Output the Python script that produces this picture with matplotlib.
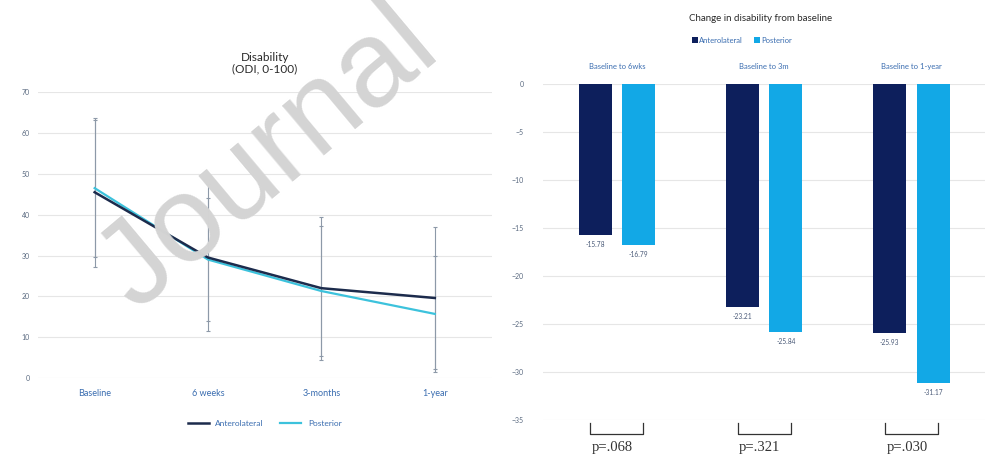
import numpy as np
import matplotlib
matplotlib.use('Agg')
import matplotlib.pyplot as plt

plt.rcParams['font.family'] = ['Lato', 'DejaVu Sans']

# ---- 数据：左图 ODI 随时间变化 ----
time_points = ['Baseline', '6 weeks', '3-months', '1-year']
ant_mean = [45.5, 29.5, 22.0, 19.6]
ant_sd = [18.3, 18.0, 17.5, 17.5]
post_mean = [46.5, 29.0, 21.3, 15.7]
post_sd = [16.8, 15.0, 16.0, 14.3]

# ---- 数据：右图 相对基线变化 ----
change_groups = ['Baseline to 6wks', 'Baseline to 3m', 'Baseline to 1-year']
ant_change = [-15.78, -23.21, -25.93]
post_change = [-16.79, -25.84, -31.17]
p_values = ['p=.068', 'p=.321', 'p=.030']

series_names = ['Anterolateral', 'Posterior']

navy = '#0d1f5c'
cyan = '#12a8e6'
line_navy = '#1c2b4c'
line_cyan = '#3cc2dc'
err_col = '#8d99a8'
grid_col = '#e6e6e6'
tick_col = '#5a6a80'
lab_col = '#3a6db0'

fig = plt.figure(figsize=(9.86, 4.61), dpi=100)

# ================= 左图 =================
ax1 = fig.add_axes([0.0385, 0.18, 0.46, 0.62])
x = np.arange(len(time_points))
ax1.errorbar(x, ant_mean, yerr=ant_sd, fmt='none', ecolor=err_col, elinewidth=0.8,
             capsize=1.5, capthick=0.8, zorder=2)
ax1.errorbar(x, post_mean, yerr=post_sd, fmt='none', ecolor=err_col, elinewidth=0.8,
             capsize=1.5, capthick=0.8, zorder=2)
ax1.plot(x, ant_mean, color=line_navy, lw=1.8, label=series_names[0], zorder=4)
ax1.plot(x, post_mean, color=line_cyan, lw=1.6, label=series_names[1], zorder=3)
ax1.set_xlim(-0.5, len(time_points) - 0.5)
ax1.set_ylim(0, 70)
ax1.set_yticks(np.arange(0, 71, 10))
ax1.set_xticks(x)
ax1.set_xticklabels(time_points, fontsize=6.5, color=lab_col)
ax1.tick_params(axis='y', labelsize=5, colors=tick_col, length=0, pad=6)
ax1.tick_params(axis='x', length=0, pad=8)
ax1.grid(axis='y', color=grid_col, lw=0.8)
ax1.set_axisbelow(True)
for s in ax1.spines.values():
    s.set_visible(False)
ax1.set_title('Disability\n(ODI, 0-100)', fontsize=8.5, color='#2a2a2a', pad=14, linespacing=1.1)
ax1.legend(loc='upper center', bbox_to_anchor=(0.5, -0.12), ncol=2, frameon=False,
           fontsize=6, handlelength=2.5, columnspacing=2.0, labelcolor=lab_col)

# ================= 右图 =================
ax2 = fig.add_axes([0.551, 0.089, 0.448, 0.729])
xg = np.arange(len(change_groups))
w = 0.225
gap = 0.07
off = (w + gap) / 2
b1 = ax2.bar(xg - off, ant_change, width=w, color=navy, label=series_names[0], zorder=3)
b2 = ax2.bar(xg + off, post_change, width=w, color=cyan, label=series_names[1], zorder=3)
for bars, vals in [(b1, ant_change), (b2, post_change)]:
    for r, v in zip(bars, vals):
        ax2.text(r.get_x() + r.get_width() / 2, v - 0.6, f'{v:.2f}', ha='center', va='top',
                 fontsize=4.8, color='#4a5a78')
ax2.set_xlim(-0.5, len(change_groups) - 0.5)
ax2.set_ylim(-35, 0)
ax2.set_yticks(np.arange(-35, 1, 5))
ax2.xaxis.tick_top()
ax2.set_xticks(xg)
ax2.set_xticklabels(change_groups, fontsize=5.5, color=lab_col)
ax2.tick_params(axis='x', length=0, pad=10)
ax2.tick_params(axis='y', labelsize=5, colors=tick_col, length=0, pad=14)
ax2.grid(axis='y', color=grid_col, lw=0.8)
ax2.set_axisbelow(True)
for s in ax2.spines.values():
    s.set_visible(False)
fig.text(0.771, 0.96, 'Change in disability from baseline', ha='center', va='center',
         fontsize=7, color='#2a2a2a')
ax2.legend(loc='center', bbox_to_anchor=(0.45, 1.13), ncol=2, frameon=False, fontsize=5.5,
           handlelength=0.7, handleheight=0.7, handletextpad=0.2, columnspacing=1.5,
           labelcolor=lab_col)

# p 值括号
for i, p in enumerate(p_values):
    xl, xr = xg[i] - 0.18, xg[i] + 0.18
    ax2.plot([xl, xl, xr, xr], [-35.3, -36.5, -36.5, -35.3], color='#333333', lw=0.9,
             clip_on=False)
    ax2.text(xg[i] - 0.03, -37.9, p, ha='center', va='center', fontsize=10.5,
             family=['Liberation Serif', 'DejaVu Serif'], color='#333333')

# 水印
fig.text(0.272, 0.655, 'Journal', rotation=40, ha='center', va='center', fontsize=88,
         family=['Liberation Sans', 'DejaVu Sans'], color='#d4d4d4', zorder=20)

fig.savefig('out.png', dpi=100)
